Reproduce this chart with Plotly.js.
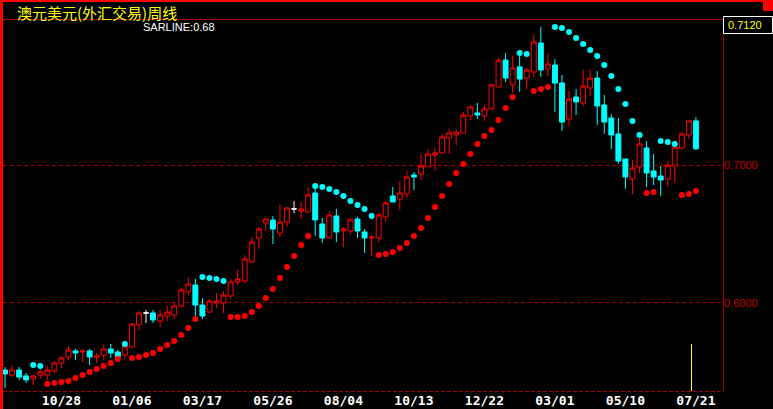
<!DOCTYPE html>
<html><head><meta charset="utf-8">
<script src="https://cdn.plot.ly/plotly-3.0.1.min.js"></script>
<style>html,body{margin:0;padding:0;background:#000;overflow:hidden}#chart{width:773px;height:409px}</style>
</head><body><div id="chart"></div>
<script>
const chartTitle = '澳元美元(外汇交易)周线';
const tickIndex = [8,18,28,38,48,58,68,78,88,98];
const tickLabels = ['10/28','01/06','03/17','05/26','08/04','10/13','12/22','03/01','05/10','07/21'];
const priceTicks = [0.6, 0.7];

const open = [0.5510,0.5474,0.5510,0.5467,0.5445,0.5474,0.5474,0.5503,0.5561,0.5605,
0.5649,0.5641,0.5649,0.5605,0.5619,0.5663,0.5641,0.5619,0.5678,0.5838,
0.5925,0.5925,0.5867,0.5903,0.5911,0.5976,0.6078,0.6129,0.5983,0.5932,
0.5998,0.5998,0.6049,0.6151,0.6158,0.6296,0.6471,0.6580,0.6602,0.6507,
0.6587,0.6682,0.6667,0.6660,0.6798,0.6573,0.6471,0.6631,0.6522,0.6522,
0.6609,0.6515,0.6471,0.6471,0.6624,0.6777,0.6755,0.6791,0.6929,0.6937,
0.6988,0.7075,0.7090,0.7199,0.7221,0.7235,0.7359,0.7381,0.7359,0.7410,
0.7570,0.7766,0.7585,0.7716,0.7635,0.7679,0.7890,0.7701,0.7730,0.7599,
0.7337,0.7497,0.7454,0.7563,0.7635,0.7439,0.7344,0.7228,0.7046,0.6900,
0.6988,0.7126,0.6959,0.6922,0.6900,0.6995,0.7126,0.7221,0.7323];

const high = [0.5532,0.5547,0.5532,0.5488,0.5474,0.5518,0.5539,0.5576,0.5612,0.5685,
0.5663,0.5663,0.5663,0.5634,0.5692,0.5700,0.5656,0.5707,0.5852,0.5940,
0.5947,0.5947,0.5947,0.5976,0.6005,0.6107,0.6187,0.6173,0.6034,0.6027,
0.6071,0.6085,0.6173,0.6238,0.6347,0.6478,0.6551,0.6617,0.6631,0.6718,
0.6697,0.6740,0.6733,0.6842,0.6857,0.6617,0.6667,0.6682,0.6551,0.6617,
0.6624,0.6536,0.6493,0.6653,0.6740,0.6842,0.6886,0.6959,0.6951,0.7082,
0.7111,0.7126,0.7228,0.7264,0.7264,0.7388,0.7439,0.7454,0.7439,0.7592,
0.7781,0.7817,0.7796,0.7817,0.7708,0.7948,0.8007,0.7817,0.7774,0.7657,
0.7541,0.7555,0.7694,0.7694,0.7686,0.7512,0.7373,0.7344,0.7046,0.7039,
0.7206,0.7177,0.7082,0.6995,0.7031,0.7162,0.7242,0.7323,0.7352];

const low = [0.5379,0.5459,0.5438,0.5416,0.5401,0.5445,0.5438,0.5488,0.5525,0.5583,
0.5583,0.5569,0.5547,0.5561,0.5583,0.5598,0.5583,0.5590,0.5670,0.5801,
0.5852,0.5852,0.5823,0.5867,0.5881,0.5969,0.6056,0.5896,0.5881,0.5925,
0.5962,0.5925,0.6027,0.6129,0.6143,0.6289,0.6391,0.6522,0.6427,0.6478,
0.6551,0.6653,0.6609,0.6653,0.6486,0.6435,0.6464,0.6442,0.6405,0.6500,
0.6471,0.6362,0.6340,0.6442,0.6587,0.6733,0.6675,0.6762,0.6820,0.6893,
0.6988,0.6959,0.7082,0.7082,0.7148,0.7235,0.7330,0.7337,0.7323,0.7403,
0.7570,0.7606,0.7526,0.7534,0.7555,0.7643,0.7643,0.7650,0.7388,0.7250,
0.7286,0.7366,0.7432,0.7504,0.7293,0.7228,0.7119,0.7010,0.6828,0.6791,
0.6944,0.6842,0.6857,0.6777,0.6842,0.6871,0.7111,0.7192,0.7111];

const close = [0.5481,0.5510,0.5459,0.5438,0.5467,0.5496,0.5510,0.5561,0.5598,0.5656,
0.5634,0.5649,0.5605,0.5612,0.5663,0.5634,0.5605,0.5685,0.5845,0.5925,
0.5925,0.5874,0.5911,0.5932,0.5976,0.6093,0.6136,0.5983,0.5903,0.6012,
0.6012,0.6056,0.6151,0.6173,0.6318,0.6442,0.6536,0.6609,0.6536,0.6587,
0.6689,0.6682,0.6682,0.6784,0.6602,0.6471,0.6638,0.6515,0.6536,0.6602,
0.6522,0.6471,0.6478,0.6638,0.6726,0.6733,0.6798,0.6915,0.6915,0.6995,
0.7082,0.7090,0.7206,0.7235,0.7242,0.7366,0.7424,0.7366,0.7410,0.7585,
0.7766,0.7635,0.7708,0.7628,0.7694,0.7897,0.7694,0.7737,0.7599,0.7315,
0.7483,0.7461,0.7577,0.7635,0.7432,0.7315,0.7221,0.7031,0.6915,0.6980,
0.7155,0.6944,0.6915,0.6893,0.7002,0.7133,0.7228,0.7323,0.7120];

const sar = [null,null,null,null,0.5547,0.5539,0.5408,0.5416,0.5423,0.5430,
0.5452,0.5474,0.5496,0.5518,0.5539,0.5561,0.5590,0.5700,0.5598,0.5605,
0.5619,0.5634,0.5663,0.5692,0.5721,0.5765,0.5816,0.5881,0.6187,0.6180,
0.6173,0.6158,0.5896,0.5896,0.5903,0.5932,0.5976,0.6034,0.6100,0.6180,
0.6260,0.6340,0.6420,0.6486,0.6849,0.6842,0.6828,0.6806,0.6777,0.6740,
0.6711,0.6682,0.6631,0.6347,0.6355,0.6369,0.6398,0.6435,0.6486,0.6544,
0.6617,0.6697,0.6777,0.6864,0.6944,0.7010,0.7082,0.7155,0.7213,0.7257,
0.7330,0.7417,0.7497,0.7817,0.7810,0.7541,0.7555,0.7570,0.8007,0.7999,
0.7970,0.7927,0.7883,0.7839,0.7796,0.7730,0.7650,0.7555,0.7446,0.7323,
0.7221,0.6798,0.6806,0.7177,0.7170,0.7155,0.6784,0.6791,0.6813];

const idx = open.map((_, i) => i);
function pick(cond) {
  const s = idx.filter(cond);
  return { x: s, open: s.map(i => open[i]), high: s.map(i => high[i]), low: s.map(i => low[i]), close: s.map(i => close[i]) };
}
function candle(d, color, fill) {
  return Object.assign({
    type: 'candlestick', hoverinfo: 'skip', showlegend: false,
    increasing: { line: { color: color, width: 1 }, fillcolor: fill },
    decreasing: { line: { color: color, width: 1 }, fillcolor: fill },
    whiskerwidth: 0
  }, d);
}
const RED = '#ff0000', CYAN = '#00ffff';
const upC = pick(i => close[i] > open[i]);
const dnC = pick(i => close[i] < open[i]);
const flatC = pick(i => close[i] === open[i]);

const sarUpX = idx.filter(i => sar[i] !== null && sar[i] < close[i]);
const sarDnX = idx.filter(i => sar[i] !== null && sar[i] >= close[i]);

const traces = [
  candle(upC, RED, '#000000'),
  candle(dnC, CYAN, CYAN),
  candle(flatC, '#ffffff', '#ffffff'),
  { type: 'scatter', mode: 'markers', x: sarUpX, y: sarUpX.map(i => sar[i]), marker: { color: RED, size: 6, symbol: 'circle' }, hoverinfo: 'skip', showlegend: false },
  { type: 'scatter', mode: 'markers', x: sarDnX, y: sarDnX.map(i => sar[i]), marker: { color: CYAN, size: 6, symbol: 'circle' }, hoverinfo: 'skip', showlegend: false }
];

const W = 773, H = 409, ML = 3, MR = 50, MT = 19, MB = 18;
const PW = W - ML - MR, PH = H - MT - MB;
const px = x => (x - ML) / PW;
const py = y => (H - MB - y) / PH;
const DARKRED = '#a80000';

const shapes = [
  { type: 'rect', xref: 'paper', yref: 'paper', x0: px(0), x1: px(3), y0: py(409), y1: py(0), fillcolor: RED, line: { width: 0 } },
  { type: 'rect', xref: 'paper', yref: 'paper', x0: px(0), x1: px(773), y0: py(2), y1: py(0), fillcolor: RED, line: { width: 0 } },
  { type: 'rect', xref: 'paper', yref: 'paper', x0: px(763), x1: px(773), y0: py(11), y1: py(0), fillcolor: RED, line: { width: 0 } },
  { type: 'line', xref: 'paper', yref: 'paper', x0: px(3), x1: px(723.5), y0: py(19.5), y1: py(19.5), line: { color: DARKRED, width: 1 } },
  { type: 'line', xref: 'paper', yref: 'paper', x0: px(723.5), x1: px(723.5), y0: py(19.5), y1: py(391.5), line: { color: DARKRED, width: 1 } },
  { type: 'line', xref: 'paper', yref: 'paper', x0: px(3), x1: px(723.5), y0: py(391.5), y1: py(391.5), line: { color: DARKRED, width: 1, dash: '4px,2px' } },
  { type: 'rect', xref: 'paper', yref: 'paper', x0: px(723.5), x1: px(772.5), y0: py(33.5), y1: py(16.5), fillcolor: '#000000', line: { color: '#ffffff', width: 1 } },
  { type: 'line', xref: 'paper', yref: 'paper', x0: px(691.5), x1: px(691.5), y0: py(391), y1: py(344), line: { color: '#ffff00', width: 1 } }
];

const lastClose = close[close.length - 1];
const lastSar = sar[sar.length - 1];
const annotations = [
  { xref: 'paper', yref: 'paper', x: px(16), y: py(1), xanchor: 'left', yanchor: 'top', borderpad: 0, showarrow: false,
    text: chartTitle, font: { family: 'Noto Sans CJK SC', size: 15, color: '#ffff00' } },
  { xref: 'paper', yref: 'paper', x: px(141), y: py(27), xanchor: 'left', yanchor: 'middle', showarrow: false,
    text: 'SARLINE:' + lastSar.toFixed(2), font: { family: 'Liberation Sans', size: 11, color: '#ffffff' } },
  { xref: 'paper', yref: 'paper', x: px(726), y: py(25), xanchor: 'left', yanchor: 'middle', showarrow: false,
    text: lastClose.toFixed(4), font: { family: 'Liberation Sans', size: 11, color: '#ffff00' } }
];

const layout = {
  width: W, height: H,
  margin: { l: ML, r: MR, t: MT, b: MB, pad: 0 },
  paper_bgcolor: '#000000', plot_bgcolor: '#000000',
  showlegend: false,
  boxgap: 0.3, boxgroupgap: 0,
  xaxis: {
    range: [-0.284, 101.84], rangeslider: { visible: false },
    tickmode: 'array', tickvals: tickIndex, ticktext: tickLabels,
    showgrid: false, zeroline: false, showline: false, ticks: '',
    tickfont: { family: 'DejaVu Sans Mono', size: 13, color: '#ffffff', weight: 'bold' }
  },
  yaxis: {
    side: 'right', range: [0.53573, 0.80648],
    tickmode: 'array', tickvals: priceTicks, ticktext: priceTicks.map(v => v.toFixed(4)),
    showgrid: true, gridcolor: DARKRED, gridwidth: 1, griddash: '4px,3px',
    zeroline: false, showline: false, ticks: '',
    tickfont: { family: 'Liberation Sans', size: 11, color: '#c00000' }
  },
  shapes: shapes,
  annotations: annotations
};

Plotly.newPlot('chart', traces, layout, { displayModeBar: false, staticPlot: true });
</script>
</body></html>
